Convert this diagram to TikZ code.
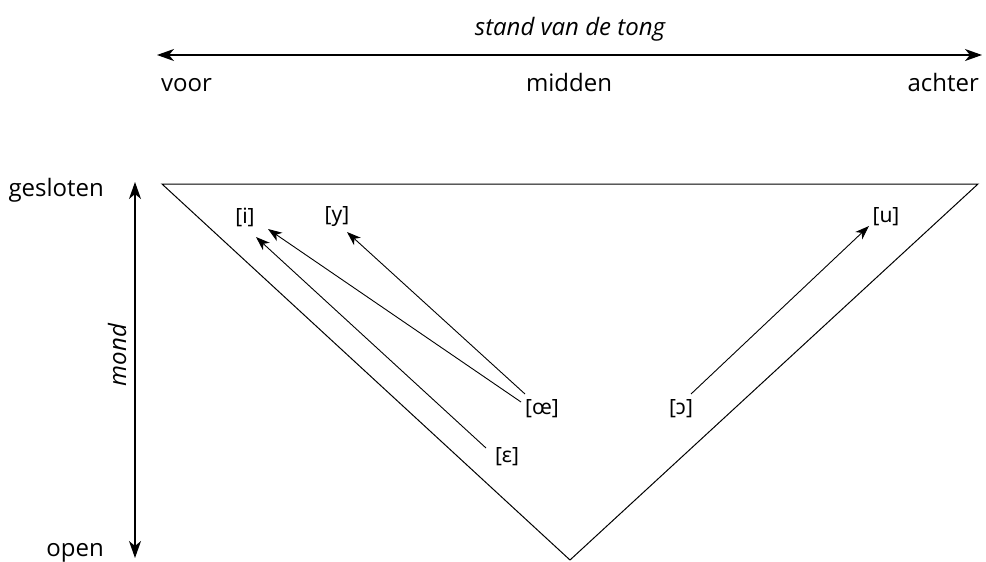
\documentclass[tikz,border=0pt]{standalone}
\usepackage{fontspec}
\setmainfont{Open Sans}
\newfontfamily\ipafont{Noto Sans}
\usetikzlibrary{arrows.meta,calc}
\begin{document}
\begin{tikzpicture}[x=1pt,y=-1pt,
  lbl/.style={inner sep=0pt,font=\fontsize{24}{28}\selectfont},
  snd/.style={inner sep=0pt,font=\fontsize{21}{25}\selectfont\ipafont},
  axis/.style={line width=1.3pt,{Stealth[length=17pt,width=12pt,inset=5pt]}-{Stealth[length=17pt,width=12pt,inset=5pt]}},
  mv/.style={line width=0.9pt,-{Stealth[length=14pt,width=10pt,inset=4pt]}},
  tri/.style={line width=1pt,line join=miter}]
\useasboundingbox (0,0) rectangle (986,562);
% horizontal axis
\coordinate (hl) at (157,55);
\coordinate (hr) at (982,55);
\draw[axis] (hl) -- (hr);
\node[lbl,font=\fontsize{24}{28}\selectfont\itshape,anchor=base] (tong) at (570,35) {stand van de tong};
\node[lbl,anchor=base west] (voor) at (161,91) {voor};
\node[lbl,anchor=base] (midden) at (569,91) {midden};
\node[lbl,anchor=base east] (achter) at (979,91) {achter};
% vertical axis
\coordinate (vt) at (135,182);
\coordinate (vb) at (135,558);
\draw[axis] (vb) -- (vt);
\node[lbl,anchor=base east] (gesloten) at (104,196) {gesloten};
\node[lbl,anchor=base east] (open) at (104,556) {open};
\node[lbl,font=\fontsize{24}{28}\selectfont\itshape,rotate=90] (mond) at (117,355) {mond};
% triangle
\coordinate (tl) at (162,184);
\coordinate (tr) at (978,184);
\coordinate (bt) at (570,560);
\draw[tri] (tl) -- (tr) -- (bt) -- cycle;
% sounds
\node[snd] (i) at (245,217) {[i]};
\node[snd] (y) at (337,217) {[y]};
\node[snd] (u) at (886,217) {[u]};
\node[snd] (oe) at (542,409) {[œ]};
\node[snd] (oo) at (681,409) {[ɔ]};
\node[snd] (eps) at (507,457) {[ɛ]};
% movements
\draw[mv] ($(eps)+(-21,-9)$) -- ($(i)+(11,20)$);
\draw[mv] ($(oe)+(-21,-7)$) -- ($(i)+(23,12)$);
\draw[mv] ($(oe)+(-17,-15)$) -- ($(y)+(10,15)$);
\draw[mv] ($(oo)+(10,-15)$) -- ($(u)+(-17,9)$);
\end{tikzpicture}
\end{document}
